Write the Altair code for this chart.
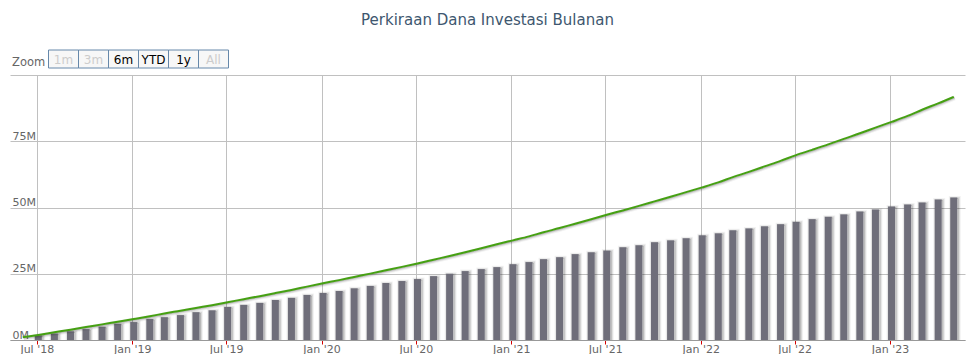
import altair as alt
import pandas as pd

# ---------------- data (values in millions) ----------------
title_text = "Perkiraan Dana Investasi Bulanan"

# monthly invested capital (columns), Jul 2018 .. May 2023
invest_m = [1.7, 2.4, 3.25, 4.1, 5.0, 6.1, 6.75, 7.9, 8.6, 9.4, 10.5, 11.2,
            12.5, 13.25, 14.0, 15.1, 15.9, 17.0, 17.75, 18.5, 19.5, 20.4, 21.5, 22.25,
            23.0, 24.1, 25.0, 26.0, 26.75, 27.5, 28.6, 29.4, 30.5, 31.25, 32.4, 33.1,
            33.75, 35.0, 35.75, 36.9, 37.6, 38.4, 39.5, 40.25, 41.4, 42.1, 42.9, 43.7,
            44.6, 45.6, 46.5, 47.4, 48.5, 49.25, 50.4, 51.1, 51.9, 53.0, 53.75]

# estimated value (line), Jun 2018 .. May 2023
estimate_m = [1.0, 1.9, 2.9, 3.9, 4.9, 5.9, 6.9, 7.9,
              8.95, 10.0, 11.05, 12.1, 13.15, 14.25,
              15.4, 16.55, 17.7, 18.9, 20.15, 21.4,
              22.6, 23.8, 25.05, 26.3, 27.6, 28.9,
              30.3, 31.7, 33.1, 34.6, 36.1, 37.6,
              39.1, 40.65, 42.25, 43.9, 45.55, 47.25,
              48.9, 50.6, 52.3, 54.05, 55.8, 57.6,
              59.5, 61.45, 63.45, 65.5, 67.6, 69.75,
              71.75, 73.8, 75.9, 78.0, 80.15, 82.3,
              84.55, 86.9, 89.3, 91.75]

y_ticks = [0, 25, 50, 75, 100]
x_tick_months = [(2018, 7), (2019, 1), (2019, 7), (2020, 1), (2020, 7), (2021, 1),
                 (2021, 7), (2022, 1), (2022, 7), (2023, 1)]

zoom_buttons = ["1m", "3m", "6m", "YTD", "1y", "All"]
zoom_enabled = [False, False, True, True, True, False]

# ---------------- tables ----------------
bar_dates = pd.date_range("2018-07-01", periods=len(invest_m), freq="MS") + pd.Timedelta(days=3)
line_dates = pd.date_range("2018-06-01", periods=len(estimate_m), freq="MS") + pd.Timedelta(days=3)
bars_df = pd.DataFrame({"date": bar_dates.strftime("%Y-%m-%dT00:00:00"), "value": invest_m})
line_df = pd.DataFrame({"date": line_dates.strftime("%Y-%m-%dT00:00:00"), "value": estimate_m})

# ---------------- styles ----------------
FONT = "DejaVu Sans"
BAR = "#6F6E7A"
GREEN = "#45A012"
GRID = "#C0C0C0"

x_scale = alt.Scale(domain=[alt.DateTime(year=2018, month=5, date=20),
                            alt.DateTime(year=2023, month=5, date=16)])
y_scale = alt.Scale(domain=[0, 100], nice=False)

x_axis = alt.Axis(values=[alt.DateTime(year=y, month=m, date=1) for y, m in x_tick_months],
                  format="%b '%y", formatType="time", title=None,
                  grid=True, gridColor=GRID, domainColor="#999999",
                  tickColor="#D40000", tickSize=4,
                  labelFont=FONT, labelFontSize=11, labelColor="#666666",
                  labelBaseline="alphabetic", labelPadding=8,
                  labelFlush=False, labelOverlap=False)
y_axis = alt.Axis(values=y_ticks, title=None,
                  labelExpr="datum.value >= 100 ? '' : datum.value + 'M'",
                  grid=True, gridColor=GRID, domain=False, ticks=False,
                  labelAlign="left", labelBaseline="bottom", labelPadding=-2,
                  labelFont=FONT, labelFontSize=11, labelColor="#666666")

X = alt.X("date:T", scale=x_scale, axis=x_axis)
Y = alt.Y("value:Q", scale=y_scale, axis=y_axis)

layers = []
# column shadows (Highcharts-like)
for i in (1, 2, 3):
    layers.append(alt.Chart(bars_df).mark_bar(
        size=7, fillOpacity=0, stroke="#000000", strokeOpacity=0.05 * i,
        strokeWidth=7 - 2 * i, xOffset=1, yOffset=1, clip=True).encode(x=X, y=Y))
layers.append(alt.Chart(bars_df).mark_bar(size=7, color=BAR, clip=True).encode(x=X, y=Y))

# line shadows + line
for i in (1, 2, 3):
    layers.append(alt.Chart(line_df).mark_line(
        stroke="#000000", strokeOpacity=0.05 * i, strokeWidth=7 - 2 * i,
        interpolate="monotone", xOffset=1, yOffset=1, clip=True).encode(x=X, y=Y))
layers.append(alt.Chart(line_df).mark_line(
    color=GREEN, strokeWidth=2, interpolate="monotone", clip=True).encode(x=X, y=Y))

# range selector ("Zoom" buttons)
layers.append(alt.Chart(pd.DataFrame({"t": ["Zoom"]})).mark_text(
    align="left", baseline="alphabetic", font=FONT, fontSize=11.5, color="#666666").encode(
    text="t:N", x=alt.value(2), y=alt.value(-9.5)))
for i, (lab, en) in enumerate(zip(zoom_buttons, zoom_enabled)):
    bdf = pd.DataFrame({"t": [lab]})
    left = 38.5 + 30 * i
    layers.append(alt.Chart(bdf).mark_rect(fill="#F7F7F7", stroke="#6688AA", strokeWidth=1).encode(
        x=alt.value(left), x2=alt.value(left + 30), y=alt.value(-25), y2=alt.value(-7)))
    layers.append(alt.Chart(bdf).mark_text(
        align="center", baseline="alphabetic", font=FONT, fontSize=12,
        color="#000000" if en else "#CCCCCC").encode(
        text="t:N", x=alt.value(left + 15), y=alt.value(-11)))

chart = alt.layer(*layers).properties(
    width=955, height=265,
    padding={"left": 2, "top": 67, "right": 2, "bottom": 14},
    autosize="none",
    background="white",
    title=alt.TitleParams(title_text, font=FONT, fontSize=15, fontWeight="normal",
                          color="#3E576F", anchor="middle", baseline="alphabetic",
                          offset=9.5),
).configure_view(strokeWidth=0)

chart.save("out.html", embed_options={"renderer": "svg", "actions": False})
